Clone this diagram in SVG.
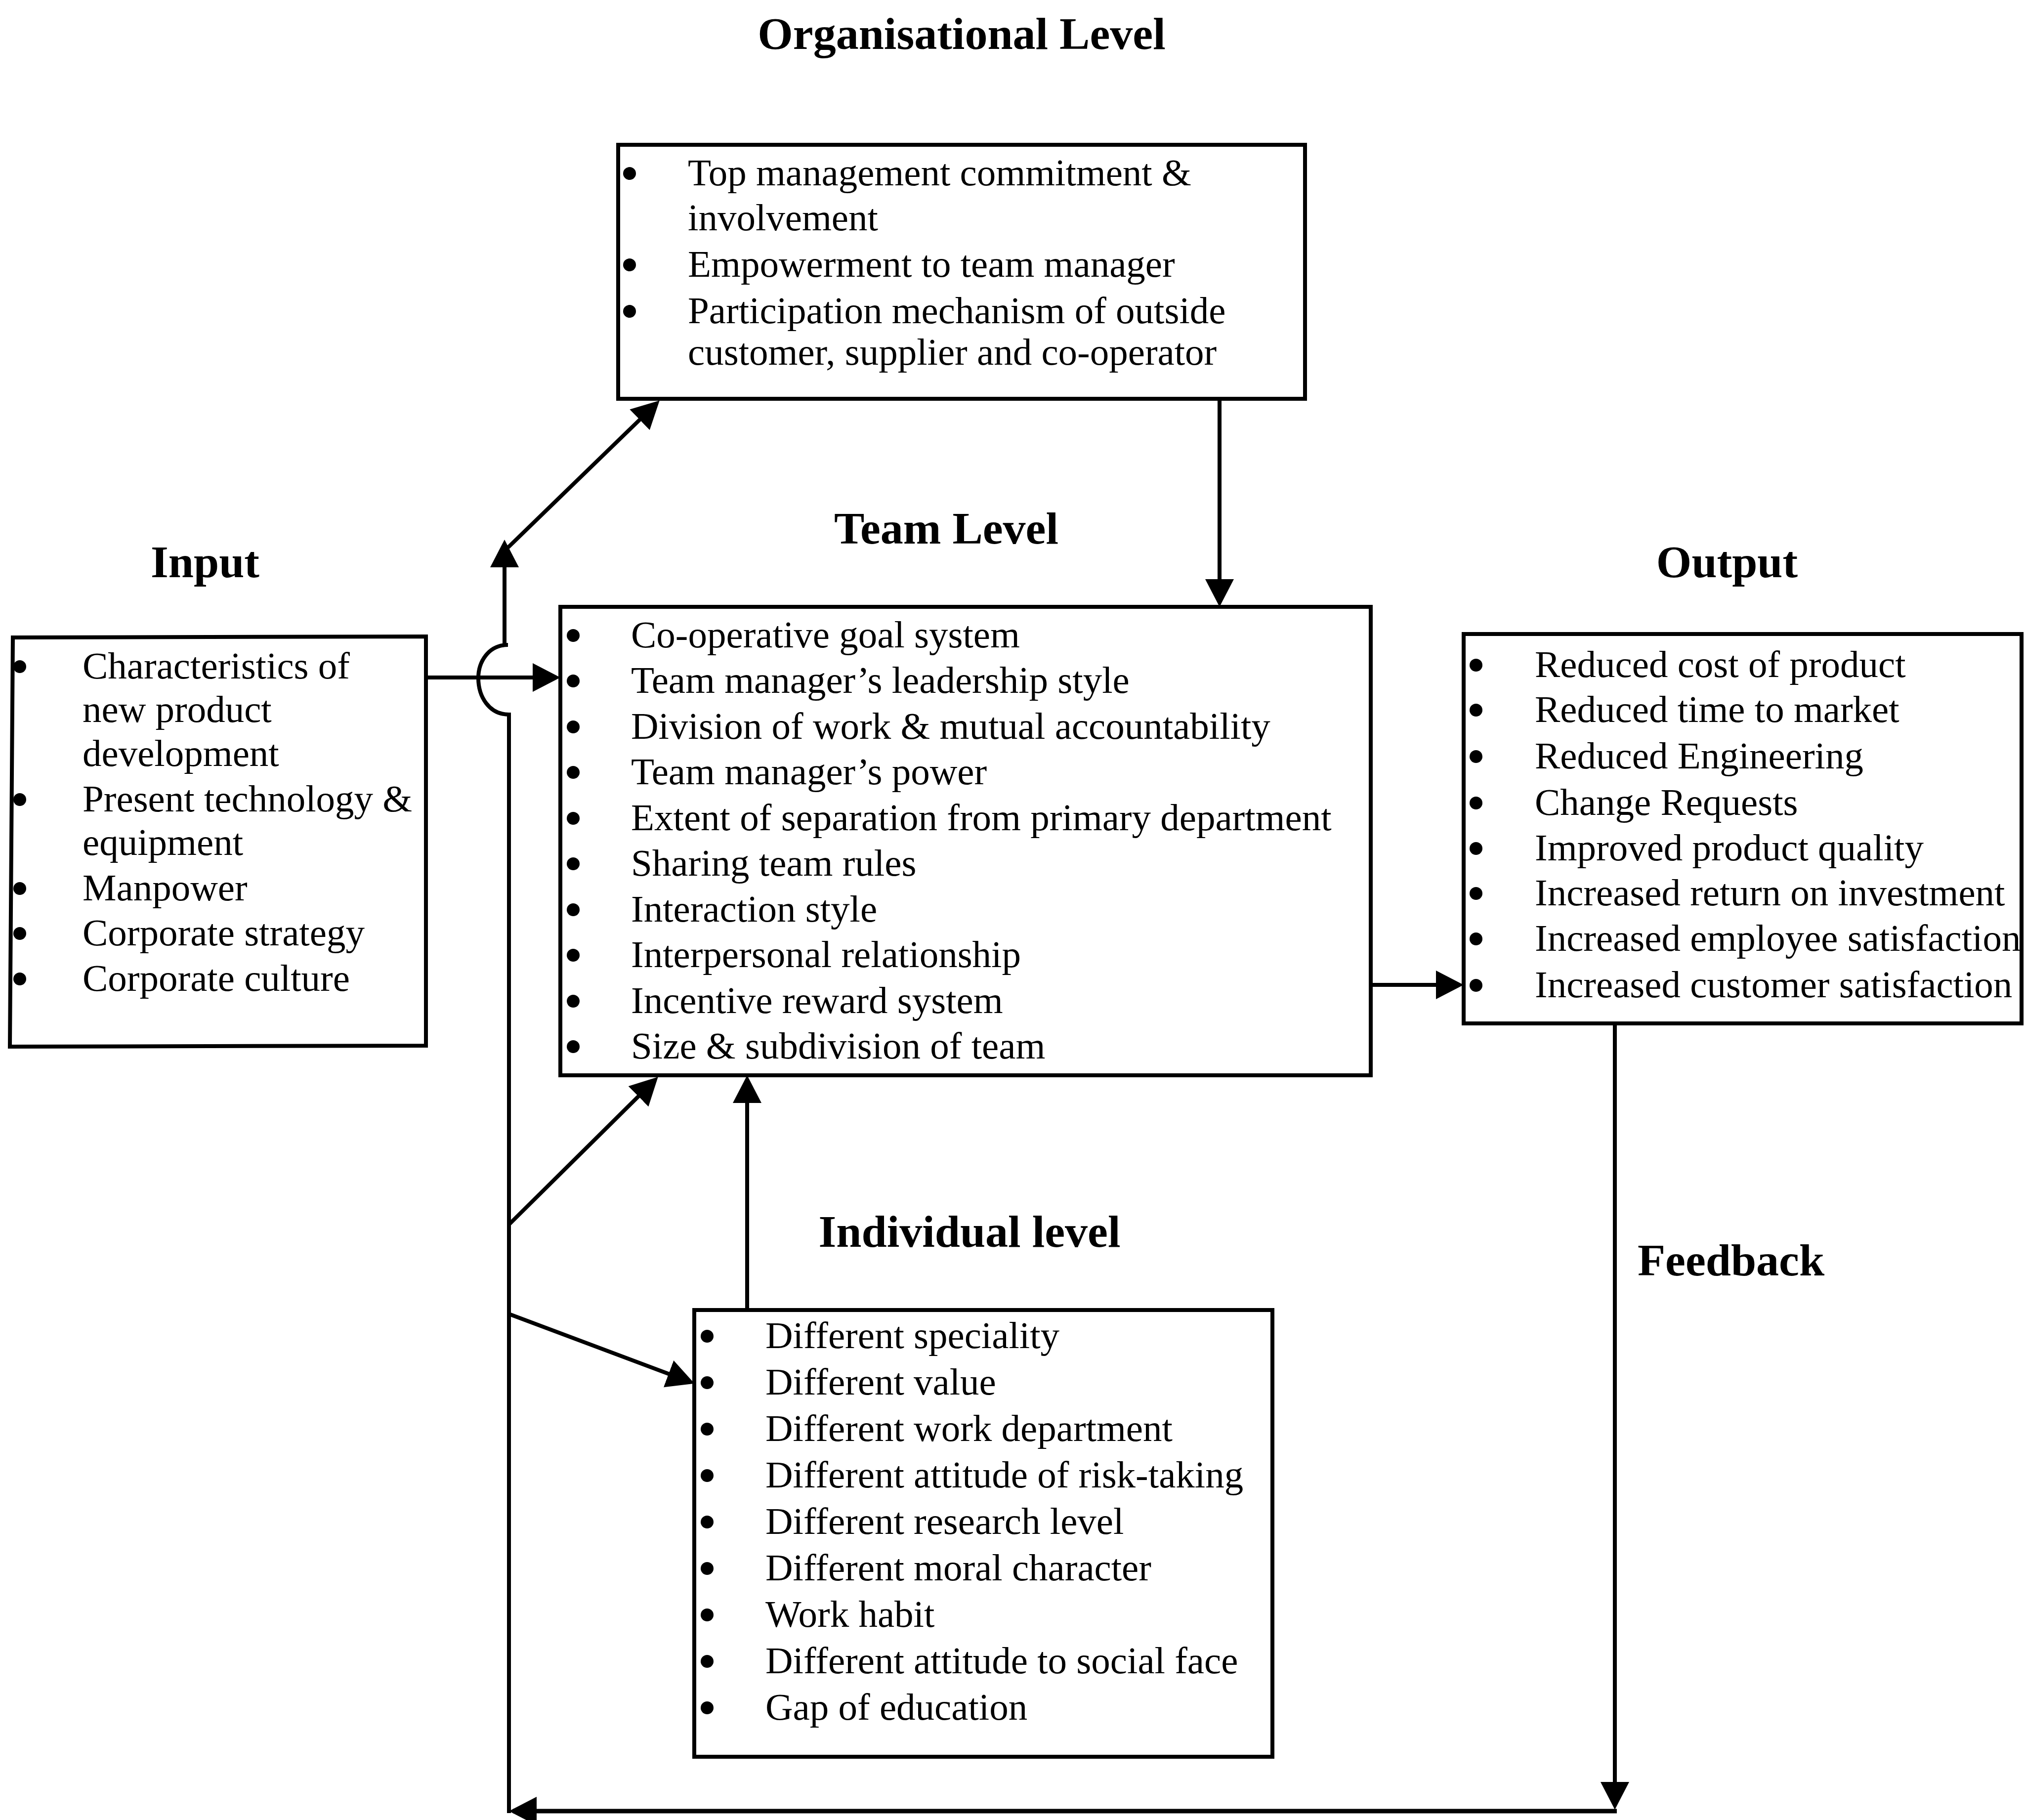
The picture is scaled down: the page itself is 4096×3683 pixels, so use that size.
<svg xmlns="http://www.w3.org/2000/svg" width="4096" height="3683" viewBox="0 0 4096 3683">
  <style>
    .box { fill: #fff; stroke: #000; stroke-width: 8; }
    .item { font-family: "Liberation Serif", "Times New Roman", serif; font-size: 77px; fill: #000; }
    .head { font-family: "Liberation Serif", "Times New Roman", serif; font-size: 92px; font-weight: bold; fill: #000; text-anchor: middle; }
    .dot { fill: #000; }
    .wire { fill: none; stroke: #000; stroke-width: 8; }
    .wire-heavy { fill: none; stroke: #000; stroke-width: 9; }
  </style>
  <defs>
    <marker id="arrow" markerUnits="userSpaceOnUse" markerWidth="56" markerHeight="58" viewBox="0 0 56 58" refX="48" refY="29" orient="auto">
      <path d="M0,0 L56,29 L0,58 Z" fill="#000"/>
    </marker>
  </defs>
  <rect width="4096" height="3683" fill="#fff"/>

  <!-- section headings -->
  <g id="headings">
    <text class="head" x="1946" y="99">Organisational Level</text>
    <text class="head" x="1915" y="1100">Team Level</text>
    <text class="head" x="415" y="1168">Input</text>
    <text class="head" x="3495" y="1168">Output</text>
    <text class="head" x="1962" y="2523">Individual level</text>
    <text class="head" x="3503" y="2581">Feedback</text>
  </g>

  <!-- organisational level factors -->
  <g id="node-organisational">
    <rect class="box" x="1251" y="293" width="1390" height="514"/>
    <g class="dot">
      <circle cx="1274" cy="351" r="13"/>
      <circle cx="1274" cy="536" r="13"/>
      <circle cx="1274" cy="630" r="13"/>
    </g>
    <text class="item" x="1392" y="375">Top management commitment &amp;</text>
    <text class="item" x="1392" y="466">involvement</text>
    <text class="item" x="1392" y="560">Empowerment to team manager</text>
    <text class="item" x="1392" y="654">Participation mechanism of outside</text>
    <text class="item" x="1392" y="738">customer, supplier and co-operator</text>
  </g>

  <!-- team level factors -->
  <g id="node-team">
    <rect class="box" x="1134" y="1228" width="1640" height="948"/>
    <g class="dot">
      <circle cx="1160" cy="1286" r="13"/>
      <circle cx="1160" cy="1378" r="13"/>
      <circle cx="1160" cy="1471" r="13"/>
      <circle cx="1160" cy="1563" r="13"/>
      <circle cx="1160" cy="1656" r="13"/>
      <circle cx="1160" cy="1748" r="13"/>
      <circle cx="1160" cy="1841" r="13"/>
      <circle cx="1160" cy="1933" r="13"/>
      <circle cx="1160" cy="2026" r="13"/>
      <circle cx="1160" cy="2118" r="13"/>
    </g>
    <text class="item" x="1277" y="1310">Co-operative goal system</text>
    <text class="item" x="1277" y="1402">Team manager’s leadership style</text>
    <text class="item" x="1277" y="1495">Division of work &amp; mutual accountability</text>
    <text class="item" x="1277" y="1587">Team manager’s power</text>
    <text class="item" x="1277" y="1680">Extent of separation from primary department</text>
    <text class="item" x="1277" y="1772">Sharing team rules</text>
    <text class="item" x="1277" y="1865">Interaction style</text>
    <text class="item" x="1277" y="1957">Interpersonal relationship</text>
    <text class="item" x="1277" y="2050">Incentive reward system</text>
    <text class="item" x="1277" y="2142">Size &amp; subdivision of team</text>
  </g>

  <!-- input factors -->
  <g id="node-input">
    <path class="box" d="M26,1290 L862,1288 L862,2116 L20,2118 Z"/>
    <g class="dot">
      <circle cx="40" cy="1349" r="13"/>
      <circle cx="40" cy="1618" r="13"/>
      <circle cx="40" cy="1798" r="13"/>
      <circle cx="40" cy="1889" r="13"/>
      <circle cx="40" cy="1981" r="13"/>
    </g>
    <text class="item" x="167" y="1373">Characteristics of</text>
    <text class="item" x="167" y="1461">new product</text>
    <text class="item" x="167" y="1550">development</text>
    <text class="item" x="167" y="1642">Present technology &amp;</text>
    <text class="item" x="167" y="1730">equipment</text>
    <text class="item" x="167" y="1822">Manpower</text>
    <text class="item" x="167" y="1913">Corporate strategy</text>
    <text class="item" x="167" y="2005">Corporate culture</text>
  </g>

  <!-- output results -->
  <g id="node-output">
    <rect class="box" x="2962" y="1283" width="1129" height="788"/>
    <g class="dot">
      <circle cx="2987" cy="1346" r="13"/>
      <circle cx="2987" cy="1437" r="13"/>
      <circle cx="2987" cy="1531" r="13"/>
      <circle cx="2987" cy="1625" r="13"/>
      <circle cx="2987" cy="1717" r="13"/>
      <circle cx="2987" cy="1808" r="13"/>
      <circle cx="2987" cy="1900" r="13"/>
      <circle cx="2987" cy="1994" r="13"/>
    </g>
    <text class="item" x="3106" y="1370">Reduced cost of product</text>
    <text class="item" x="3106" y="1461">Reduced time to market</text>
    <text class="item" x="3106" y="1555">Reduced Engineering</text>
    <text class="item" x="3106" y="1649">Change Requests</text>
    <text class="item" x="3106" y="1741">Improved product quality</text>
    <text class="item" x="3106" y="1832">Increased return on investment</text>
    <text class="item" x="3106" y="1924">Increased employee satisfaction</text>
    <text class="item" x="3106" y="2018">Increased customer satisfaction</text>
  </g>

  <!-- individual level factors -->
  <g id="node-individual">
    <rect class="box" x="1405" y="2651" width="1170" height="904"/>
    <g class="dot">
      <circle cx="1431" cy="2704" r="13"/>
      <circle cx="1431" cy="2798" r="13"/>
      <circle cx="1431" cy="2892" r="13"/>
      <circle cx="1431" cy="2986" r="13"/>
      <circle cx="1431" cy="3080" r="13"/>
      <circle cx="1431" cy="3174" r="13"/>
      <circle cx="1431" cy="3268" r="13"/>
      <circle cx="1431" cy="3362" r="13"/>
      <circle cx="1431" cy="3456" r="13"/>
    </g>
    <text class="item" x="1549" y="2728">Different speciality</text>
    <text class="item" x="1549" y="2822">Different value</text>
    <text class="item" x="1549" y="2916">Different work department</text>
    <text class="item" x="1549" y="3010">Different attitude of risk-taking</text>
    <text class="item" x="1549" y="3104">Different research level</text>
    <text class="item" x="1549" y="3198">Different moral character</text>
    <text class="item" x="1549" y="3292">Work habit</text>
    <text class="item" x="1549" y="3386">Different attitude to social face</text>
    <text class="item" x="1549" y="3480">Gap of education</text>
  </g>

  <!-- connectors -->
  <g id="connectors">
    <line class="wire" x1="2468" y1="807" x2="2468" y2="1220" marker-end="url(#arrow)"/>
    <line class="wire" x1="1028" y1="1108" x2="1329" y2="816" marker-end="url(#arrow)"/>
    <line class="wire" x1="1021" y1="1305" x2="1021" y2="1100" marker-end="url(#arrow)"/>
    <!-- spine hops over the input arrow, then runs down to the feedback return -->
    <path class="wire" d="M1028,1305 C988,1305 968,1340 968,1372 C968,1410 990,1446 1030,1446 L1030,3669"/>
    <line class="wire" x1="862" y1="1371" x2="1126" y2="1371" marker-end="url(#arrow)"/>
    <line class="wire" x1="2774" y1="1993" x2="2954" y2="1993" marker-end="url(#arrow)"/>
    <line class="wire" x1="1030" y1="2478" x2="1326" y2="2185" marker-end="url(#arrow)"/>
    <line class="wire" x1="1512" y1="2651" x2="1512" y2="2184" marker-end="url(#arrow)"/>
    <line class="wire" x1="1030" y1="2659" x2="1398" y2="2797" marker-end="url(#arrow)"/>
    <line class="wire" x1="3268" y1="2071" x2="3268" y2="3654" marker-end="url(#arrow)"/>
    <line class="wire-heavy" x1="3272" y1="3665" x2="1038" y2="3665" marker-end="url(#arrow)"/>
  </g>
</svg>
